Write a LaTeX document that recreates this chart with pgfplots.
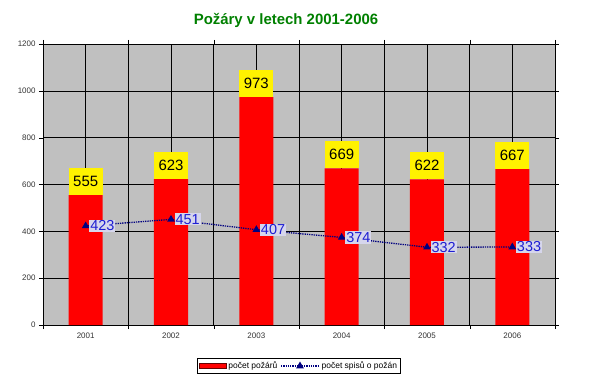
\documentclass[border=0pt]{standalone}
\usepackage{pgfplots}
\pgfplotsset{compat=1.18}
\usepackage{fontspec}
\setmainfont{Liberation Sans}
\definecolor{bgc}{RGB}{192,192,192}
\definecolor{navyc}{RGB}{0,0,128}
\definecolor{lblue}{RGB}{30,30,210}
\definecolor{lbg}{RGB}{214,214,236}
\definecolor{titlegreen}{RGB}{0,128,0}
\begin{document}
\begin{tikzpicture}
\useasboundingbox (0bp,0bp) rectangle (600bp,378bp);
\begin{axis}[at={(43bp,53bp)}, anchor=south west, scale only axis,
  width=512bp, height=281bp,
  xmin=0.5, xmax=6.5, ymin=0, ymax=1200,
  xtick={1,2,3,4,5,6}, xticklabels={2001,2002,2003,2004,2005,2006},
  minor xtick={0.5,1.5,2.5,3.5,4.5,5.5,6.5},
  ytick={0,200,400,600,800,1000,1200},
  xmajorgrids, xminorgrids, ymajorgrids,
  grid style={black, line width=0.6pt},
  minor grid style={black, line width=0.6pt},
  major x tick style={draw=none},
  minor x tick style={black},
  tick align=outside, major tick length=4bp, minor tick length=4bp,
  tick style={black},
  axis background/.style={fill=bgc},
  axis line style={black},
  tick label style={font=\fontsize{8}{8}\selectfont, text=black!80},
  /pgf/number format/assume math mode=true,
  /pgf/number format/1000 sep={},
  clip=false,
  legend columns=2,
  legend style={at={(0.5,-0.146)}, anchor=center, draw=black, fill=white,
    font=\fontsize{8.5}{8.5}\selectfont, inner sep=1.5pt,
    /tikz/every even column/.append style={column sep=1pt}},
]
\addplot[ybar, bar width=34bp, fill=red, draw=none,
  legend image code/.code={\draw[fill=red, draw=black!60!red] (0bp,-2.5bp) rectangle (27bp,2.5bp);},
  nodes near coords,
  every node near coord/.append style={fill=yellow, text=black,
    font=\fontsize{15}{15}\selectfont, minimum width=34bp, minimum height=27bp,
    inner sep=0pt, anchor=south}]
  coordinates {(1,555) (2,623) (3,973) (4,669) (5,622) (6,667)};
\addlegendentry{počet požárů}
\addplot[navyc, densely dotted, line width=1.3pt, mark=triangle*,
  mark options={solid, scale=1.6},
  legend image code/.code={\draw[mark repeat=2, mark phase=2] plot coordinates {(0bp,0bp) (19bp,0bp) (38bp,0bp)};},
  nodes near coords,
  every node near coord/.append style={anchor=west, fill=lbg, text=lblue,
    font=\fontsize{14.5}{14.5}\selectfont, inner sep=1pt, xshift=3bp}]
  coordinates {(1,423) (2,451) (3,407) (4,374) (5,332) (6,333)};
\addlegendentry{počet spisů o požán}
\end{axis}
\node[font=\bfseries\fontsize{15}{15}\selectfont, text=titlegreen] at (286bp,358bp) {Požáry v letech 2001-2006};
\end{tikzpicture}
\end{document}
